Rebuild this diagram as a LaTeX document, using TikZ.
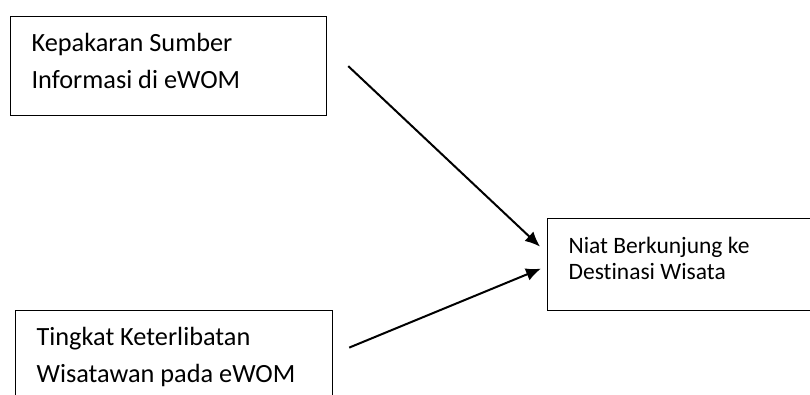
\documentclass[tikz,border=0pt]{standalone}
\usepackage{fontspec}
\setmainfont{Carlito}[RawFeature={-liga;-clig;-calt;-dlig}]
\usepackage{tikz}
\usetikzlibrary{positioning,arrows.meta}

\begin{document}
\begin{tikzpicture}[x=1pt,y=1pt]
\tikzstyle{box}=[rectangle, draw=black, line width=1.2pt, anchor=north west, align=flush left, inner xsep=21pt, inner ysep=0pt, text height=35pt]
\tikzstyle{big}=[font=\fontsize{26.3}{37}\selectfont, text width=274pt, text depth=64pt]
\tikzstyle{small}=[font=\fontsize{23.5}{25.7}\selectfont, text width=248pt, text depth=57pt]
\tikzstyle{connect}=[-{Latex[length=15pt,width=13pt]}, line width=2pt]
\useasboundingbox (0,0) rectangle (810,394);
	\node[box,big] (expert) at (10,378) {Kepakaran Sumber\\Informasi di eWOM};
	\node[box,big,text width=275pt] (involve) at (15,84) {Tingkat Keterlibatan\\Wisatawan pada eWOM};
	\node[box,small] (intent) at (547,176) {Niat Berkunjung ke\\Destinasi Wisata};

	\coordinate (src1) at ([xshift=21pt]expert.east);
	\coordinate (src2) at ([xshift=16pt,yshift=12.5pt]involve.east);
	\coordinate (in1) at ([xshift=-7pt,yshift=18pt]intent.west);
	\coordinate (in2) at ([xshift=-6pt,yshift=-4pt]intent.west);

	\draw[connect] (src1) -- (in1);
	\draw[connect] (src2) -- (in2);
\end{tikzpicture}
\end{document}
